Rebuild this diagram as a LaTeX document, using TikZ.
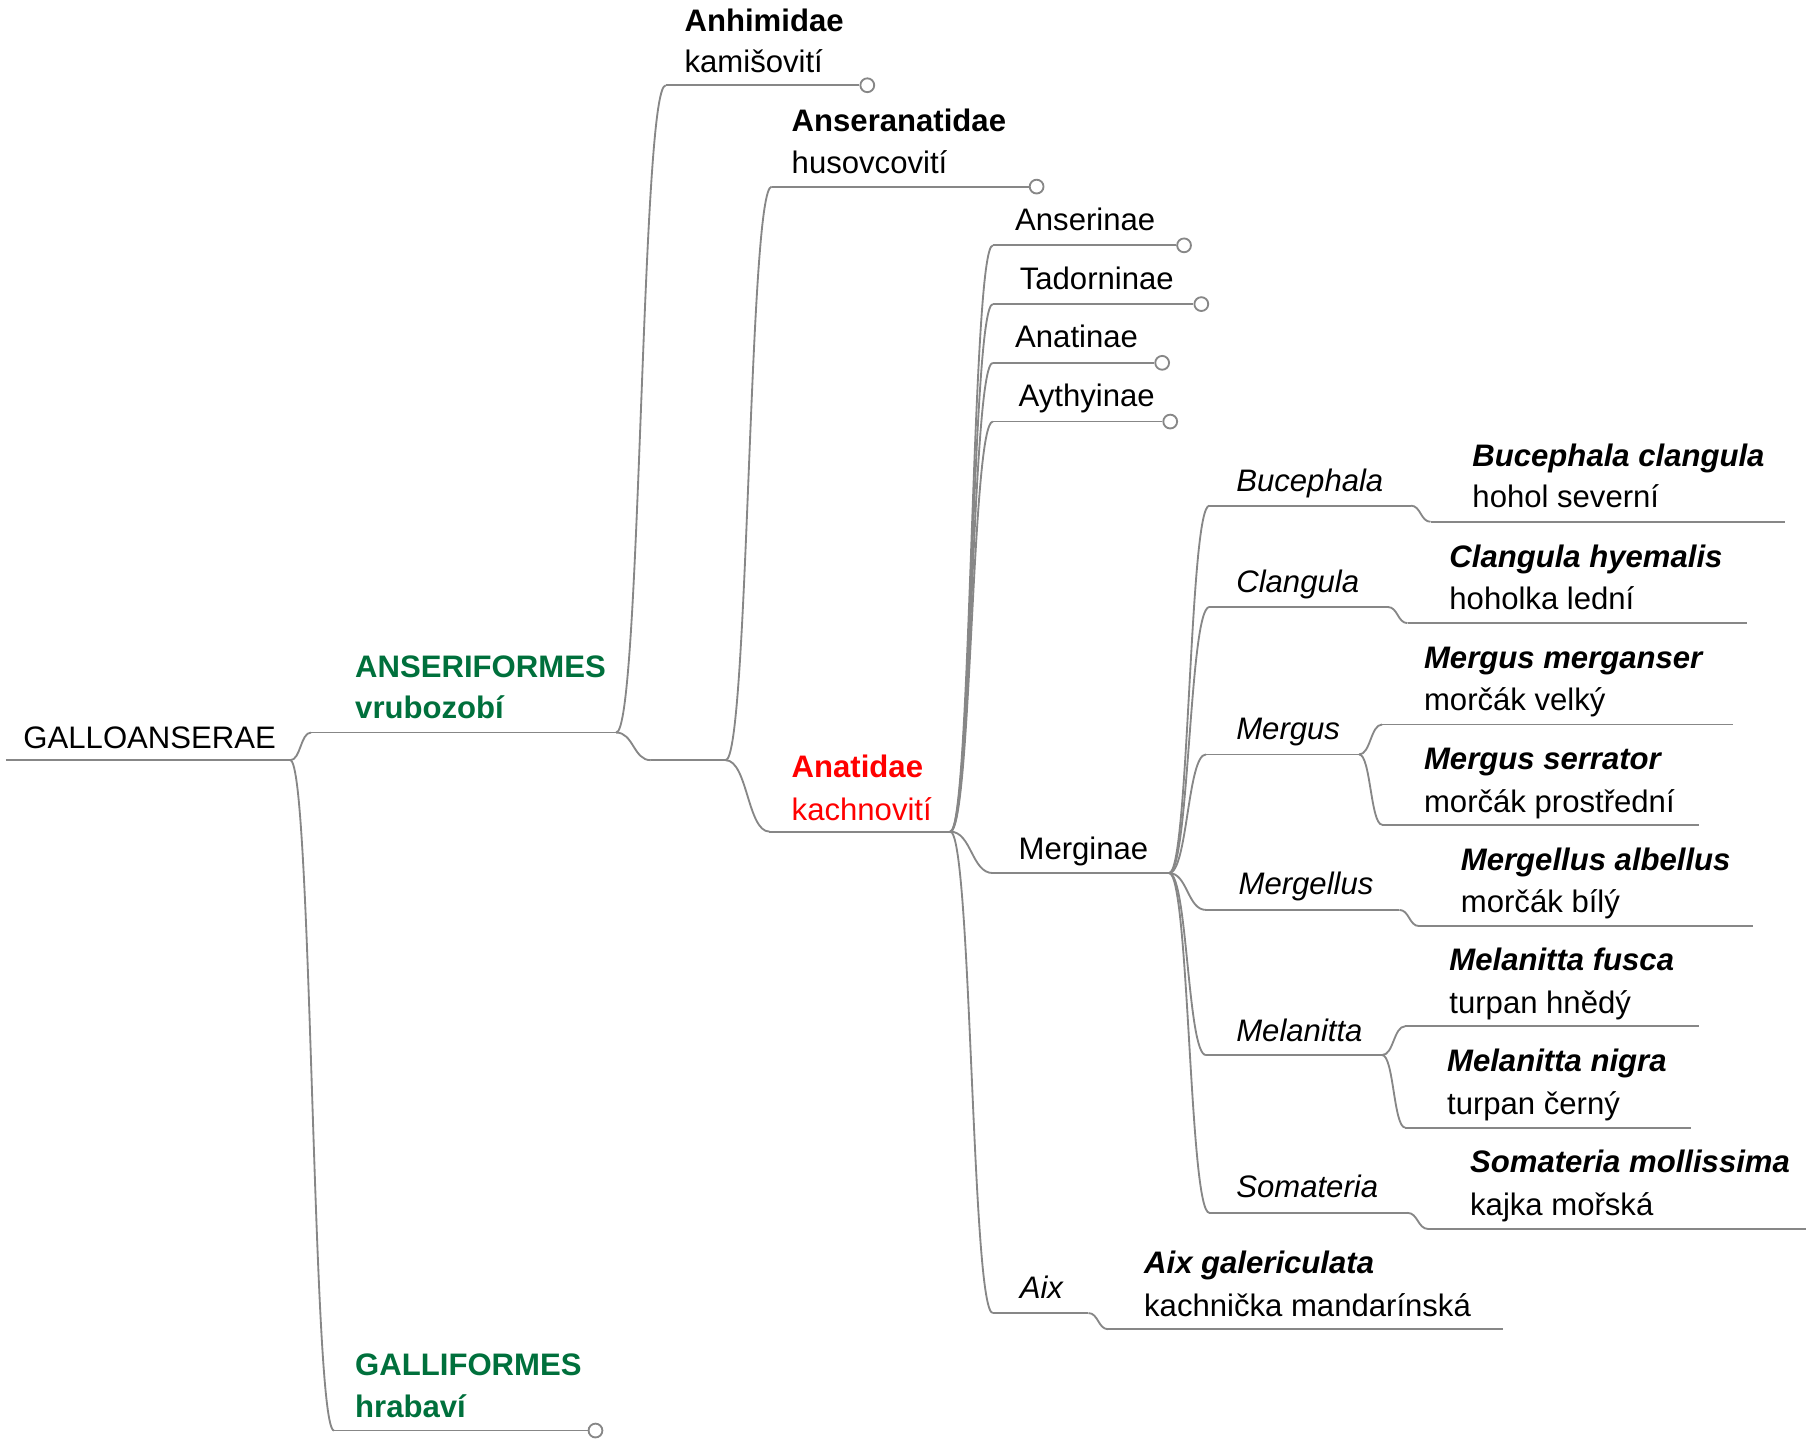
\documentclass[tikz,border=0pt]{standalone}
\usepackage{fontspec}
\setmainfont{Liberation Sans}
\usetikzlibrary{calc}
\definecolor{ordgreen}{RGB}{0,112,60}
\definecolor{linegray}{RGB}{135,135,135}
\tikzset{
 lbl/.style={anchor=base west, inner sep=0pt, font=\fontsize{13.5}{16}\selectfont},
 under/.style={draw=linegray, line width=0.8pt},
 conn/.style={draw=linegray, line width=0.8pt},
 knob/.style={circle, draw=linegray, line width=0.8pt, fill=white, minimum size=6pt, inner sep=0pt},
}
\newcommand\link[2]{\draw[conn] let \p1=(#1), \p2=(#2) in (#1) .. controls ({0.5*\x1+0.5*\x2},\y1) and ({0.5*\x1+0.5*\x2},\y2) .. (#2);}
\begin{document}
\begin{tikzpicture}[x=0.5pt,y=-0.5pt]
\useasboundingbox (0,0) rectangle (1568,1250);

% ---------- coordinates of topic lines ----------
\coordinate (gaS) at (5,660);    \coordinate (gaE) at (252,660);
\coordinate (anS) at (270,636);  \coordinate (anE) at (535,636);
\coordinate (glS) at (290,1242); \node[knob] (glK) at (517,1242) {};
\coordinate (ahS) at (578,74);   \node[knob] (ahK) at (753,74) {};
\coordinate (emS) at (565,660);  \coordinate (emE) at (630,660);
\coordinate (asS) at (670,162);  \node[knob] (asK) at (900,162) {};
\coordinate (atS) at (668,722);  \coordinate (atE) at (825,722);
\coordinate (snS) at (862,213);  \node[knob] (snK) at (1028,213) {};
\coordinate (tdS) at (862,264);  \node[knob] (tdK) at (1043,264) {};
\coordinate (aaS) at (862,315);  \node[knob] (aaK) at (1009,315) {};
\coordinate (ayS) at (862,366);  \node[knob] (ayK) at (1016,366) {};
\coordinate (mgS) at (862,758);  \coordinate (mgE) at (1015,758);
\coordinate (axS) at (862,1140); \coordinate (axE) at (945,1140);
\coordinate (agS) at (962,1154); \coordinate (agE) at (1305,1154);
\coordinate (bcS) at (1050,439); \coordinate (bcE) at (1225,439);
\coordinate (bqS) at (1242,453); \coordinate (bqE) at (1550,453);
\coordinate (clS) at (1050,527); \coordinate (clE) at (1205,527);
\coordinate (chS) at (1222,541); \coordinate (chE) at (1517,541);
\coordinate (msS) at (1047,655); \coordinate (msE) at (1180,655);
\coordinate (mmS) at (1200,629); \coordinate (mmE) at (1505,629);
\coordinate (mrS) at (1200,716); \coordinate (mrE) at (1475,716);
\coordinate (mlS) at (1047,790); \coordinate (mlE) at (1215,790);
\coordinate (maS) at (1232,804); \coordinate (maE) at (1522,804);
\coordinate (mtS) at (1047,916); \coordinate (mtE) at (1200,916);
\coordinate (mfS) at (1220,891); \coordinate (mfE) at (1475,891);
\coordinate (mnS) at (1220,979); \coordinate (mnE) at (1468,979);
\coordinate (smS) at (1050,1053);\coordinate (smE) at (1222,1053);
\coordinate (soS) at (1240,1067);\coordinate (soE) at (1568,1067);

% ---------- underlines ----------
\draw[under] (gaS) -- (gaE);
\draw[under] (anS) -- (anE);
\draw[under] (glS) -- (glK.west);
\draw[under] (ahS) -- (ahK.west);
\draw[under] (emS) -- (emE);
\draw[under] (asS) -- (asK.west);
\draw[under] (atS) -- (atE);
\draw[under] (snS) -- (snK.west);
\draw[under] (tdS) -- (tdK.west);
\draw[under] (aaS) -- (aaK.west);
\draw[under] (ayS) -- (ayK.west);
\draw[under] (mgS) -- (mgE);
\draw[under] (axS) -- (axE);
\draw[under] (agS) -- (agE);
\draw[under] (bcS) -- (bcE);
\draw[under] (bqS) -- (bqE);
\draw[under] (clS) -- (clE);
\draw[under] (chS) -- (chE);
\draw[under] (msS) -- (msE);
\draw[under] (mmS) -- (mmE);
\draw[under] (mrS) -- (mrE);
\draw[under] (mlS) -- (mlE);
\draw[under] (maS) -- (maE);
\draw[under] (mtS) -- (mtE);
\draw[under] (mfS) -- (mfE);
\draw[under] (mnS) -- (mnE);
\draw[under] (smS) -- (smE);
\draw[under] (soS) -- (soE);

% ---------- connectors ----------
\link{gaE}{anS} \link{gaE}{glS}
\link{anE}{ahS} \link{anE}{emS}
\link{emE}{asS} \link{emE}{atS}
\link{atE}{snS} \link{atE}{tdS} \link{atE}{aaS} \link{atE}{ayS}
\link{atE}{mgS} \link{atE}{axS}
\link{axE}{agS}
\link{mgE}{bcS} \link{mgE}{clS} \link{mgE}{msS}
\link{mgE}{mlS} \link{mgE}{mtS} \link{mgE}{smS}
\link{bcE}{bqS} \link{clE}{chS}
\link{msE}{mmS} \link{msE}{mrS}
\link{mlE}{maS}
\link{mtE}{mfS} \link{mtE}{mnS}
\link{smE}{soS}

% ---------- texts ----------
\node[lbl] (tGA) at (20,650) {GALLOANSERAE};
\node[lbl, text=ordgreen, font=\fontsize{13.5}{16}\selectfont\bfseries] (tAN1) at (308,588) {ANSERIFORMES};
\node[lbl, text=ordgreen, font=\fontsize{13.5}{16}\selectfont\bfseries] (tAN2) at (308,624) {vrubozobí};
\node[lbl, text=ordgreen, font=\fontsize{13.5}{16}\selectfont\bfseries] (tGL1) at (308,1194) {GALLIFORMES};
\node[lbl, text=ordgreen, font=\fontsize{13.5}{16}\selectfont\bfseries] (tGL2) at (308,1231) {hrabaví};
\node[lbl] (tAH1) at (594,27) {\bfseries Anhimidae};
\node[lbl] (tAH2) at (594,63) {kamišovití};
\node[lbl] (tAS1) at (687,114) {\bfseries Anseranatidae};
\node[lbl] (tAS2) at (687,151) {husovcovití};
\node[lbl, text=red] (tAT1) at (687,675) {\bfseries Anatidae};
\node[lbl, text=red] (tAT2) at (687,712) {kachnovití};
\node[lbl] (tSN) at (881,200) {Anserinae};
\node[lbl] (tTD) at (885,251) {Tadorninae};
\node[lbl] (tAA) at (881,302) {Anatinae};
\node[lbl] (tAY) at (884,353) {Aythyinae};
\node[lbl] (tMG) at (884,746) {Merginae};
\node[lbl] (tAX) at (885,1127) {\itshape Aix};
\node[lbl] (tAG1) at (993,1106) {\bfseries\itshape Aix galericulata};
\node[lbl] (tAG2) at (993,1143) {kachnička mandarínská};
\node[lbl] (tBC) at (1073,427) {\itshape Bucephala};
\node[lbl] (tBQ1) at (1278,405) {\bfseries\itshape Bucephala clangula};
\node[lbl] (tBQ2) at (1278,441) {hohol severní};
\node[lbl] (tCL) at (1073,514) {\itshape Clangula};
\node[lbl] (tCH1) at (1258,493) {\bfseries\itshape Clangula hyemalis};
\node[lbl] (tCH2) at (1258,529) {hoholka lední};
\node[lbl] (tMS) at (1073,642) {\itshape Mergus};
\node[lbl] (tMM1) at (1236,580) {\bfseries\itshape Mergus merganser};
\node[lbl] (tMM2) at (1236,617) {morčák velký};
\node[lbl] (tMR1) at (1236,668) {\bfseries\itshape Mergus serrator};
\node[lbl] (tMR2) at (1236,705) {morčák prostřední};
\node[lbl] (tML) at (1075,777) {\itshape Mergellus};
\node[lbl] (tMA1) at (1268,756) {\bfseries\itshape Mergellus albellus};
\node[lbl] (tMA2) at (1268,792) {morčák bílý};
\node[lbl] (tMT) at (1073,904) {\itshape Melanitta};
\node[lbl] (tMF1) at (1258,843) {\bfseries\itshape Melanitta fusca};
\node[lbl] (tMF2) at (1258,880) {turpan hnědý};
\node[lbl] (tMN1) at (1256,930) {\bfseries\itshape Melanitta nigra};
\node[lbl] (tMN2) at (1256,968) {turpan černý};
\node[lbl] (tSM) at (1073,1040) {\itshape Somateria};
\node[lbl] (tSO1) at (1276,1018) {\bfseries\itshape Somateria mollissima};
\node[lbl] (tSO2) at (1276,1055) {kajka mořská};
\end{tikzpicture}
\end{document}
